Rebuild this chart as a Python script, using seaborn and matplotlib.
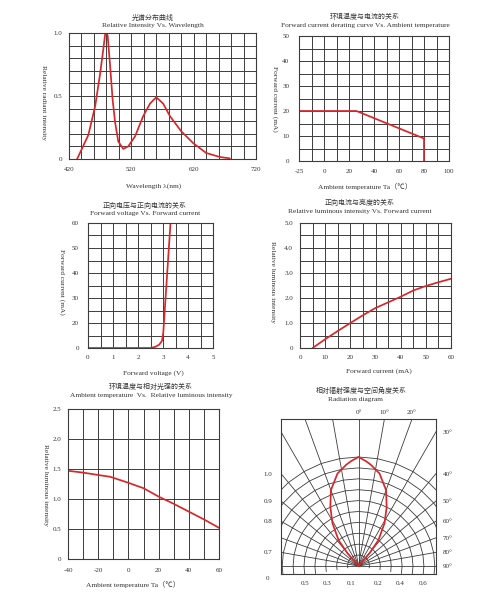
import numpy as np
import matplotlib
matplotlib.use("Agg")
import matplotlib.pyplot as plt
from matplotlib.ticker import MultipleLocator
import seaborn as sns

# ---- values ----
# spectrum
wavelength = [433, 451, 462, 470, 475, 478, 480, 482, 486, 490, 494, 499, 507, 515,
              526, 539, 550, 560, 571, 582, 600, 619, 640, 662, 678]
rel_radiant = [0, 0.19, 0.42, 0.68, 0.87, 0.99, 1.0, 0.98, 0.735, 0.47, 0.29, 0.14, 0.08,
               0.10, 0.18, 0.34, 0.44, 0.49, 0.44, 0.34, 0.22, 0.127, 0.048, 0.016, 0.005]

# derating curve
derate_ta = [-20, 26, 80, 80]
derate_ma = [20, 20, 9, 0]
derate_xticks = [-20, 0, 20, 40, 60, 80, 100]
derate_xlabels = ['-25', '0', '20', '40', '60', '80', '100']

# IV curve (y in grid units, labels as printed)
fwd_v = [0, 2.48, 2.68, 2.85, 2.96, 3.01, 3.30]
fwd_ma = [0, 0, 0.5, 1.6, 3.5, 7.2, 60]
iv_yticks = [0, 12, 24, 36, 48, 60]
iv_ylabels = ['0', '20', '30', '40', '50', '60']

# luminous intensity vs current
lum_ma = [5, 10, 15, 20, 25, 30, 40, 45, 50, 55, 60]
lum_rel = [0, 0.35, 0.68, 1.0, 1.31, 1.6, 2.05, 2.3, 2.48, 2.63, 2.77]

# luminous intensity vs ambient temperature
temp_ta = [-40, -30, -20, -12, 0, 10, 20, 30, 40, 50, 60]
temp_rel = [1.47, 1.44, 1.40, 1.37, 1.27, 1.18, 1.04, 0.92, 0.79, 0.66, 0.52]

# radiation pattern (half, mirrored below)
rad_angle = [0, 4, 7, 12.8, 20, 25.5, 31.3, 37.6, 40.9, 42]
rad_rel = [1.0, 0.965, 0.935, 0.87, 0.74, 0.60, 0.46, 0.30, 0.154, 0.0]
rad_left_labels = ['1.0', '0.9', '0.8', '0.7']
rad_left_angles = [40, 50, 60, 80]
rad_right_angles = [30, 40, 50, 60, 70, 80, 90]
rad_top_angles = [0, 10, 20]
rad_bottom_labels = ['0.5', '0.3', '0.1', '0.2', '0.4', '0.6']
rad_bottom_pos = [-0.49, -0.29, -0.07, 0.18, 0.38, 0.59]

sns.set_theme(style="white")
plt.rcParams['font.family'] = ['Liberation Serif', 'Noto Sans CJK SC']
plt.rcParams['axes.unicode_minus'] = False

W, H = 490, 600
RED = '#d8262a'
GRID = '#3c3c3c'
TXT = '#333333'
LW = 1.25
fig = plt.figure(figsize=(W / 100, H / 100), dpi=100)


def add_ax(l, t, r, b):
    return fig.add_axes([l / W, 1 - b / H, (r - l) / W, (b - t) / H])


def title(x, y, zh, en):
    fig.text(x / W, 1 - y / H, zh, ha='center', va='center', fontsize=5, color=TXT)
    fig.text(x / W, 1 - (y + 9) / H, en, ha='center', va='center', fontsize=5.3, color=TXT)


def style(ax, xminor, yminor, xpad, ypad):
    ax.xaxis.set_minor_locator(MultipleLocator(xminor))
    ax.yaxis.set_minor_locator(MultipleLocator(yminor))
    ax.grid(True, which='both', color=GRID, lw=0.7)
    ax.tick_params(which='both', length=0, labelsize=5, colors=TXT)
    ax.tick_params(axis='x', pad=xpad)
    ax.tick_params(axis='y', pad=ypad)
    for s in ax.spines.values():
        s.set_color(GRID)
        s.set_linewidth(0.8)
    ax.set_axisbelow(True)


def labels(ax, xl, xc, yl, yc):
    ax.set_xlabel(xl, fontsize=5.3, color=TXT)
    ax.xaxis.set_label_coords(*xc)
    ax.set_ylabel(yl, fontsize=5.3, color=TXT, rotation=270, va='center')
    ax.yaxis.set_label_coords(*yc)


# 1. spectrum
ax1 = add_ax(69, 33, 256, 159)
sns.lineplot(x=wavelength, y=rel_radiant, ax=ax1, color=RED, lw=LW, sort=False, estimator=None)
ax1.set_xlim(420, 720)
ax1.set_ylim(0, 1.0)
ax1.set_xticks([420, 520, 620, 720])
ax1.set_yticks([0, 0.5, 1.0], ['0', '0.5', '1.0'])
style(ax1, 20, 0.1, 5.5, 5)
labels(ax1, 'Wavelength λ(nm)', (0.45, -0.19), 'Relative radiant intensity', (-0.139, 0.45))
title(153, 17, '光谱分布曲线', 'Relative Intensity Vs. Wavelength')

# 2. derating
ax2 = add_ax(299, 36, 449, 161)
sns.lineplot(x=derate_ta, y=derate_ma, ax=ax2, color=RED, lw=LW, sort=False, estimator=None)
ax2.set_xlim(-20, 100)
ax2.set_ylim(0, 50)
ax2.set_xticks(derate_xticks, derate_xlabels)
ax2.set_yticks([0, 10, 20, 30, 40, 50])
style(ax2, 10, 5, 5.5, 7)
labels(ax2, 'Ambient temperature Ta（℃）', (0.44, -0.176), 'Forward current (mA)', (-0.16, 0.5))
title(365, 16, '环境温度与电流的关系', 'Forward current derating curve Vs. Ambient temperature')

# 3. IV curve
ax3 = add_ax(88, 223, 213, 348)
sns.lineplot(x=fwd_v, y=fwd_ma, ax=ax3, color=RED, lw=LW, sort=False, estimator=None)
ax3.set_xlim(0, 5)
ax3.set_ylim(0, 60)
ax3.set_xticks([0, 1, 2, 3, 4, 5])
ax3.set_yticks(iv_yticks, iv_ylabels)
style(ax3, 0.5, 6, 5, 6.5)
labels(ax3, 'Forward voltage (V)', (0.52, -0.176), 'Forward current (mA)', (-0.208, 0.53))
title(145, 205, '正向电压与正向电流的关系', 'Forward voltage Vs. Forward current')

# 4. luminous intensity vs current
ax4 = add_ax(300, 223, 451, 348)
sns.lineplot(x=lum_ma, y=lum_rel, ax=ax4, color=RED, lw=LW, sort=False, estimator=None)
ax4.set_xlim(0, 60)
ax4.set_ylim(0, 5)
ax4.set_xticks([0, 10, 20, 30, 40, 50, 60])
ax4.set_yticks([0, 1, 2, 3, 4, 5], ['0', '1.0', '2.0', '3.0', '4.0', '5.0'])
style(ax4, 5, 0.5, 5, 5)
labels(ax4, 'Forward current (mA)', (0.52, -0.16), 'Relative luminous intensity', (-0.179, 0.53))
title(360, 202, '正向电流与亮度的关系', 'Relative luminous intensity Vs. Forward current')

# 5. luminous intensity vs temperature
ax5 = add_ax(68, 409, 219, 559)
sns.lineplot(x=temp_ta, y=temp_rel, ax=ax5, color=RED, lw=LW, sort=False, estimator=None)
ax5.set_xlim(-40, 60)
ax5.set_ylim(0, 2.5)
ax5.set_xticks([-40, -20, 0, 20, 40, 60])
ax5.set_yticks([0, 0.5, 1.0, 1.5, 2.0, 2.5], ['0', '0.5', '1.0', '1.5', '2.0', '2.5'])
style(ax5, 10, 0.5, 6.5, 5)
labels(ax5, 'Ambient temperature Ta（℃）', (0.43, -0.147), 'Relative luminous intensity', (-0.152, 0.49))
title(151, 386, '环境温度与相对光强的关系', 'Ambient temperature  Vs.  Relative luminous intensity')

# 6. radiation diagram
ax6 = add_ax(281, 419, 436, 574)
half, top, bot = 77.5 / 109, 147 / 109, -8 / 109
ax6.set_xlim(-half, half)
ax6.set_ylim(bot, top)
for a in range(-90, 91, 10):
    t = np.radians(a)
    ax6.plot([0, 3 * np.sin(t)], [0, 3 * np.cos(t)], color=GRID, lw=0.6)
ring_t = np.radians(np.arange(-100, 101, 10))
for r in np.arange(0.1, 1.01, 0.1):
    ax6.plot(r * np.sin(ring_t), r * np.cos(ring_t), color=GRID, lw=0.6)

full_ang = np.radians([-a for a in rad_angle[::-1]] + rad_angle[1:])
full_r = np.array(rad_rel[::-1] + rad_rel[1:])
sns.lineplot(x=full_r * np.sin(full_ang), y=full_r * np.cos(full_ang), ax=ax6,
             color=RED, lw=LW, sort=False, estimator=None)

ax6.set_yticks(half / np.tan(np.radians(rad_left_angles)), rad_left_labels)
ax6.set_xticks(rad_bottom_pos, rad_bottom_labels)
ax6.tick_params(length=0, labelsize=5, colors=TXT)
ax6.tick_params(axis='x', pad=5)
ax6.tick_params(axis='y', pad=6)
for s in ax6.spines.values():
    s.set_color(GRID)
    s.set_linewidth(0.8)
ax6.text(-0.084, -0.032, '0', transform=ax6.transAxes, fontsize=5, color=TXT, ha='center', va='center')

right = ax6.secondary_yaxis('right')
right.set_yticks(half / np.tan(np.radians(rad_right_angles)), [f'{a}°' for a in rad_right_angles])
right.tick_params(length=0, labelsize=5, colors=TXT, pad=5)
right.spines['right'].set_visible(False)
topax = ax6.secondary_xaxis('top')
topax.set_xticks(top * np.tan(np.radians(rad_top_angles)), [f'{a}°' for a in rad_top_angles])
topax.tick_params(length=0, labelsize=5, colors=TXT, pad=3)
topax.spines['top'].set_visible(False)
fig.text(361 / W, 1 - 390 / H, '相对辐射强度与空间角度关系', ha='center', va='center', fontsize=5, color=TXT)
fig.text(355 / W, 1 - 399 / H, 'Radiation diagram', ha='center', va='center', fontsize=5.3, color=TXT)

fig.savefig('out.png', dpi=100)
